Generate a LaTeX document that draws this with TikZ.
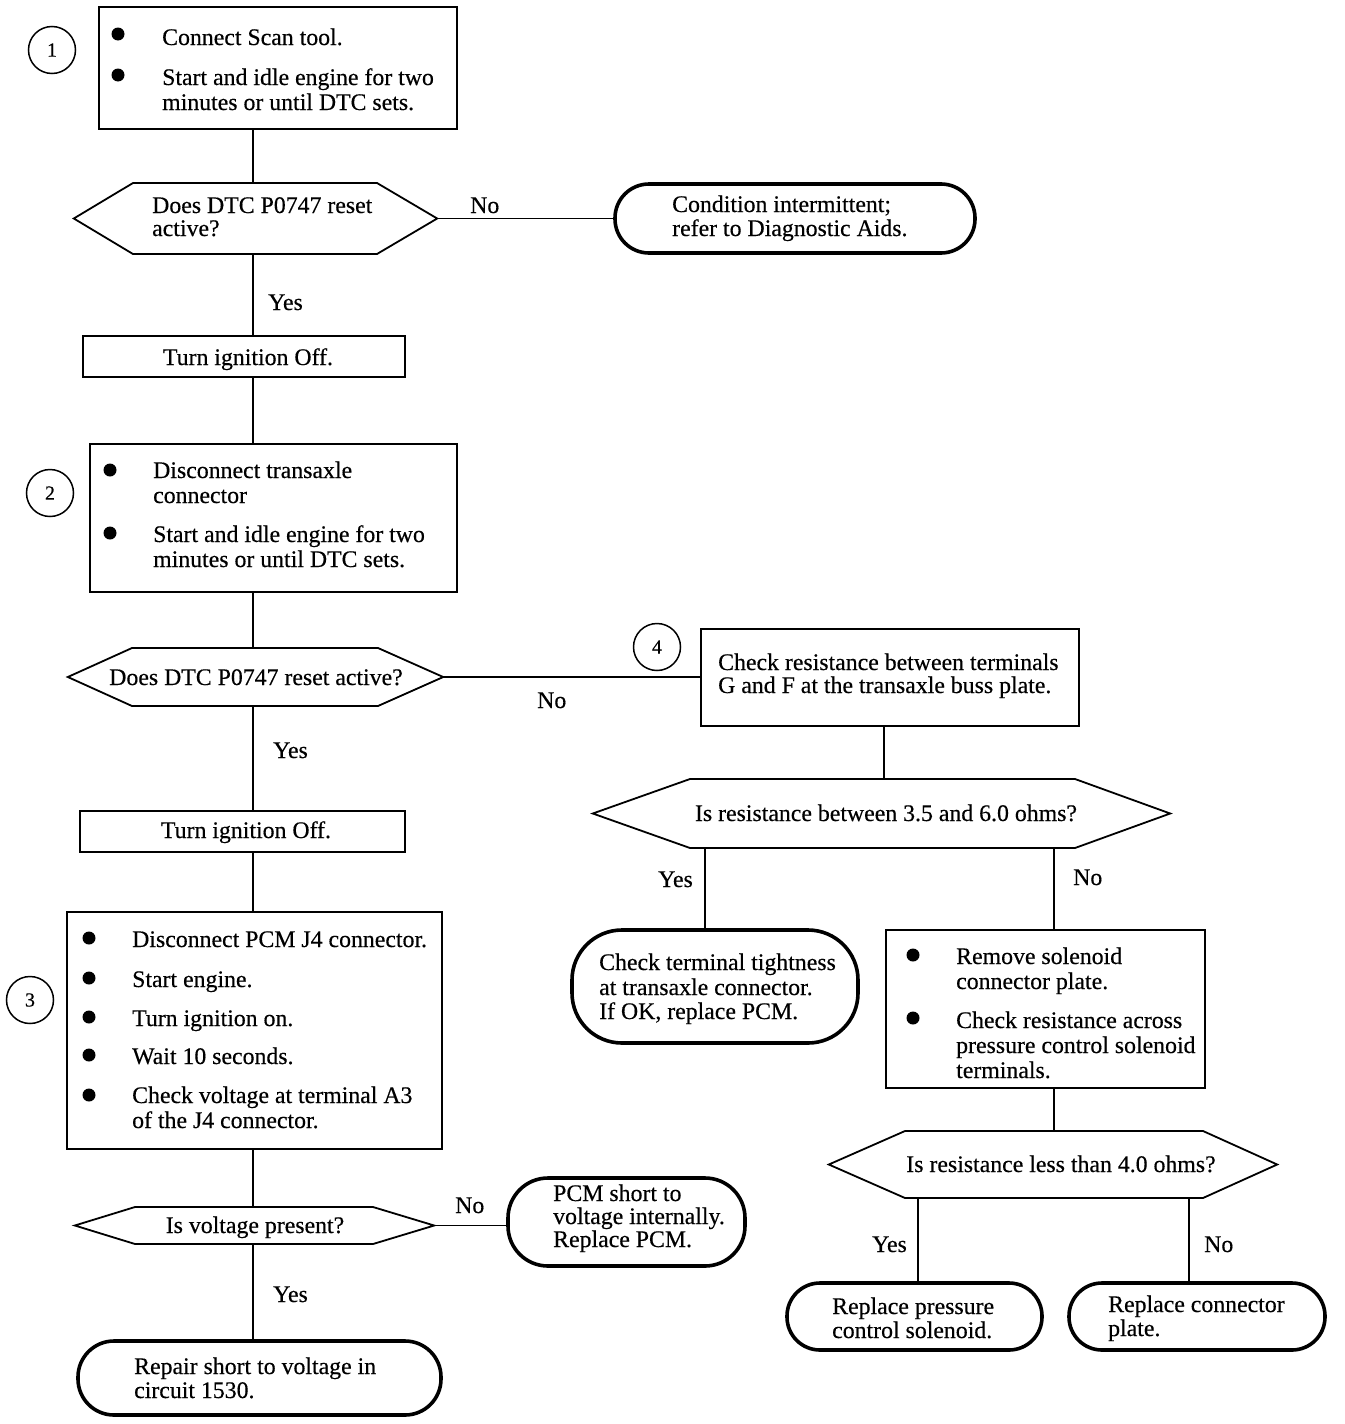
\documentclass[tikz,border=0pt]{standalone}
\usepackage{fontspec}
\setmainfont{Liberation Serif}[FakeBold=0.4]
\tikzset{
  txt/.style={font=\fontsize{23.8}{25}\selectfont, inner sep=0pt},
  numtxt/.style={font=\fontsize{20}{22}\selectfont},
  boxA/.style={draw, line width=2.8pt, inner sep=0pt},
  boxB/.style={draw, line width=2.2pt, inner sep=0pt},
  term/.style={draw, line width=3.6pt, inner sep=0pt, rounded corners=#1},
  hexline/.style={line width=1.8pt, line join=miter},
  conn/.style={line width=1.7pt},
  bul/.style={circle, fill=black, minimum size=13pt, inner sep=0pt},
  num/.style={circle, draw, line width=1.5pt, minimum size=47pt, inner sep=0pt, numtxt}
}
% rectangle node from corners: name, x1, y1, x2, y2, style
\newcommand\RBox[6]{\node[#6, minimum width={(#4-#2)*1pt}, minimum height={(#5-#3)*1pt}] (#1) at ({(#2+#4)/2},{(#3+#5)/2}) {};}
% hexagon: name, xl, xcl, xcr, xr, ytop, ybot
\newcommand\Hex[7]{%
  \node[inner sep=0pt, minimum width={(#5-#2)*1pt}, minimum height={(#7-#6)*1pt}] (#1) at ({(#2+#5)/2},{(#6+#7)/2}) {};
  \draw[hexline] (#1.west) -- (#3,#6) -- (#4,#6) -- (#1.east) -- (#4,#7) -- (#3,#7) -- cycle;}
% text line, left aligned at baseline: name, x, y, text
\newcommand\TL[4]{\node[txt, anchor=base west] (#1) at (#2,#3) {#4};}
% text line, centred at baseline
\newcommand\TC[4]{\node[txt, anchor=base] (#1) at (#2,#3) {#4};}
\begin{document}
\begin{tikzpicture}[x=1pt, y=-1pt]
\useasboundingbox (0,0) rectangle (1344,1424);

% spine coordinates
\coordinate (sp) at (253,0);
\coordinate (xa) at (705,0);
\coordinate (xb) at (884,0);
\coordinate (xc) at (1054,0);
\coordinate (xd) at (918,0);
\coordinate (xe) at (1189,0);

% ---------- Step 1 ----------
\node[num] (n1) at (52,50) {1};
\RBox{b1}{99}{7}{457}{129}{boxA}
\node[bul] (b1p1) at (118,34) {};
\node[bul] (b1p2) at (118,75) {};
\TL{b1t1}{162}{45}{Connect Scan tool.}
\TL{b1t2}{162}{85}{Start and idle engine for two}
\TL{b1t3}{162}{110}{minutes or until DTC sets.}

\Hex{d1}{74}{133}{377}{437}{183}{254}
\TL{d1t1}{152}{213}{Does DTC P0747 reset}
\TL{d1t2}{152}{236}{active?}
\TL{d1no}{470}{213}{No}

\RBox{t1}{615}{184}{975}{253}{term=34pt}
\TL{t1a}{672}{212}{Condition intermittent;}
\TL{t1b}{672}{236}{refer to Diagnostic Aids.}

\TL{d1yes}{268}{310}{Yes}
\RBox{off1}{83}{336}{405}{377}{boxA}
\TC{off1t}{248}{365}{Turn ignition Off.}

% ---------- Step 2 ----------
\node[num] (n2) at (50,493) {2};
\RBox{b2}{90}{444}{457}{592}{boxA}
\node[bul] (b2p1) at (110,470) {};
\node[bul] (b2p2) at (110,533) {};
\TL{b2t1}{153}{478}{Disconnect transaxle}
\TL{b2t2}{153}{503}{connector}
\TL{b2t3}{153}{542}{Start and idle engine for two}
\TL{b2t4}{153}{567}{minutes or until DTC sets.}

\Hex{d2}{68}{132}{378}{443}{648}{706}
\TC{d2t}{256}{685}{Does DTC P0747 reset active?}
\TL{d2no}{537}{708}{No}
\TL{d2yes}{273}{758}{Yes}

\RBox{off2}{80}{811}{405}{852}{boxA}
\TC{off2t}{246}{838}{Turn ignition Off.}

% ---------- Step 3 ----------
\node[num] (n3) at (30,1000) {3};
\RBox{b3}{67}{912}{442}{1149}{boxB}
\node[bul] (b3p1) at (89,938) {};
\node[bul] (b3p2) at (89,978) {};
\node[bul] (b3p3) at (89,1017) {};
\node[bul] (b3p4) at (89,1055) {};
\node[bul] (b3p5) at (89,1095) {};
\TL{b3t1}{132}{947}{Disconnect PCM J4 connector.}
\TL{b3t2}{132}{987}{Start engine.}
\TL{b3t3}{132}{1026}{Turn ignition on.}
\TL{b3t4}{132}{1064}{Wait 10 seconds.}
\TL{b3t5}{132}{1103}{Check voltage at terminal A3}
\TL{b3t6}{132}{1128}{of the J4 connector.}

\Hex{d5}{75}{135}{373}{434}{1207}{1244}
\TC{d5t}{255}{1233}{Is voltage present?}
\TL{d5no}{455}{1213}{No}
\RBox{pcm}{508}{1178}{745}{1266}{term=40pt}
\TL{pcma}{553}{1201}{PCM short to}
\TL{pcmb}{553}{1224}{voltage internally.}
\TL{pcmc}{553}{1247}{Replace PCM.}
\TL{d5yes}{273}{1302}{Yes}
\RBox{rep}{78}{1341}{441}{1415}{term=36pt}
\TL{repa}{134}{1374}{Repair short to voltage in}
\TL{repb}{134}{1398}{circuit 1530.}

% ---------- Step 4 ----------
\node[num] (n4) at (657,647) {4};
\RBox{b4}{701}{629}{1079}{726}{boxB}
\TL{b4t1}{718}{670}{Check resistance between terminals}
\TL{b4t2}{718}{693}{G and F at the transaxle buss plate.}

\Hex{d3}{593}{690}{1075}{1170}{779}{848}
\TC{d3t}{886}{821}{Is resistance between 3.5 and 6.0 ohms?}
\TL{d3yes}{658}{887}{Yes}
\TL{d3no}{1073}{885}{No}

\RBox{tight}{572}{930}{858}{1043}{term=50pt}
\TL{tighta}{599}{970}{Check terminal tightness}
\TL{tightb}{599}{995}{at transaxle connector.}
\TL{tightc}{599}{1019}{If OK, replace PCM.}

\RBox{b5}{886}{930}{1205}{1088}{boxB}
\node[bul] (b5p1) at (913,955) {};
\node[bul] (b5p2) at (913,1018) {};
\TL{b5t1}{956}{964}{Remove solenoid}
\TL{b5t2}{956}{989}{connector plate.}
\TL{b5t3}{956}{1028}{Check resistance across}
\TL{b5t4}{956}{1053}{pressure control solenoid}
\TL{b5t5}{956}{1078}{terminals.}

\Hex{d4}{829}{905}{1203}{1277}{1131}{1198}
\TC{d4t}{1061}{1172}{Is resistance less than 4.0 ohms?}
\TL{d4yes}{872}{1252}{Yes}
\TL{d4no}{1204}{1252}{No}

\RBox{press}{787}{1283}{1042}{1350}{term=33pt}
\TL{pressa}{832}{1314}{Replace pressure}
\TL{pressb}{832}{1338}{control solenoid.}
\RBox{cplate}{1069}{1283}{1325}{1350}{term=33pt}
\TL{cplatea}{1108}{1312}{Replace connector}
\TL{cplateb}{1108}{1336}{plate.}

% ---------- connectors ----------
\draw[conn] (b1.south -| sp) -- (d1.north -| sp);
\draw[conn] (d1.east) -- (d1.east -| t1.west);
\draw[conn] (d1.south -| sp) -- (off1.north -| sp);
\draw[conn] (off1.south -| sp) -- (b2.north -| sp);
\draw[conn] (b2.south -| sp) -- (d2.north -| sp);
\draw[conn] (d2.east) -- (d2.east -| b4.west);
\draw[conn] (d2.south -| sp) -- (off2.north -| sp);
\draw[conn] (off2.south -| sp) -- (b3.north -| sp);
\draw[conn] (b3.south -| sp) -- (d5.north -| sp);
\draw[conn] (d5.east) -- (d5.east -| pcm.west);
\draw[conn] (d5.south -| sp) -- (rep.north -| sp);
\draw[conn] (b4.south -| xb) -- (d3.north -| xb);
\draw[conn] (d3.south -| xa) -- (tight.north -| xa);
\draw[conn] (d3.south -| xc) -- (b5.north -| xc);
\draw[conn] (b5.south -| xc) -- (d4.north -| xc);
\draw[conn] (d4.south -| xd) -- (press.north -| xd);
\draw[conn] (d4.south -| xe) -- (cplate.north -| xe);
\end{tikzpicture}
\end{document}
